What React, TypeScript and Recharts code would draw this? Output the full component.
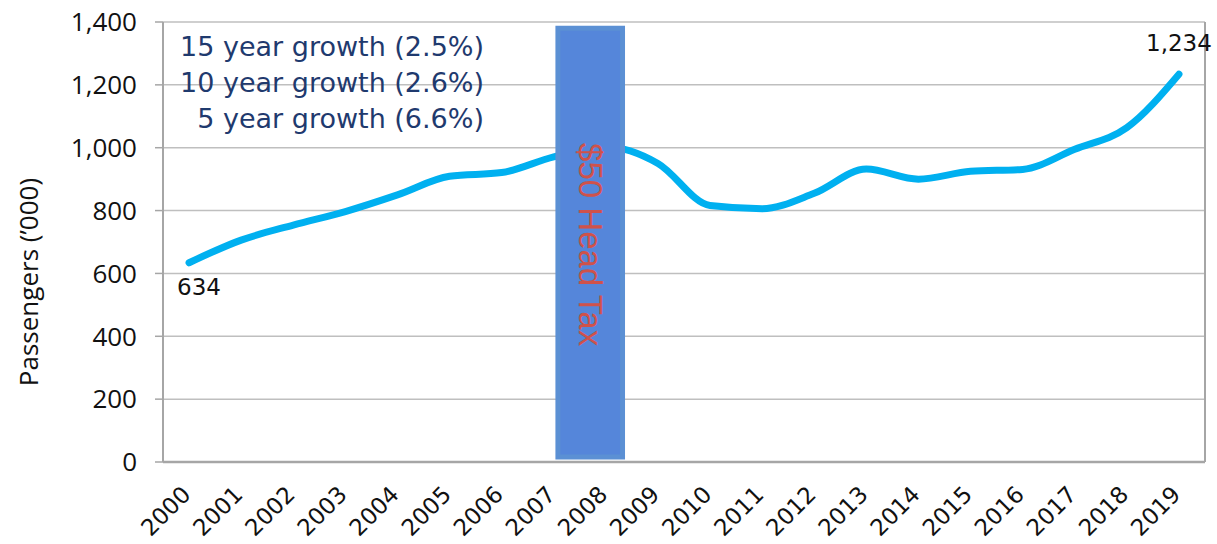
import React from "react";
import {
  LineChart,
  Line,
  XAxis,
  YAxis,
  CartesianGrid,
  ReferenceArea,
  ReferenceLine,
  LabelList,
} from "recharts";

const years = [
  2000, 2001, 2002, 2003, 2004, 2005, 2006, 2007, 2008, 2009,
  2010, 2011, 2012, 2013, 2014, 2015, 2016, 2017, 2018, 2019,
];
const passengers = [
  634, 706, 754, 797, 850, 909, 921, 971, 1003, 950,
  816, 806, 855, 932, 900, 925, 931, 995, 1064, 1234,
];
const yTicks = [0, 200, 400, 600, 800, 1000, 1200, 1400];
const growthNotes = [
  "15 year growth (2.5%)",
  "10 year growth (2.6%)",
  "5 year growth (6.6%)",
];
const taxLabel = "$50 Head Tax";
const taxSpan = [2007.08, 2008.32];

const data = years.map((year, i) => ({ year, passengers: passengers[i] }));

const fmt = (v: number) => v.toLocaleString("en-US");
const UI_FONT = "'Open Sans', 'Noto Sans', sans-serif";
const GEO_FONT = "'DejaVu Sans', sans-serif";
const W = 1217;
const H = 544;
const X_DOMAIN: [number, number] = [1999.5, 2019.5];

const YearTick = (props: any) => {
  const { x, y, payload } = props;
  const ax = x + 3;
  const ay = y + 26;
  return (
    <text
      x={ax}
      y={ay}
      transform={`rotate(-45, ${ax}, ${ay})`}
      textAnchor="end"
      fontSize={23}
      fontFamily={GEO_FONT}
      fill="#111"
    >
      {payload.value}
    </text>
  );
};

const EndLabel = (props: any) => {
  const { x, y, index, value } = props;
  if (index === 0) {
    return (
      <text x={x + 10} y={y + 32} textAnchor="middle" fontSize={23} fontFamily={GEO_FONT} fill="#111">
        {fmt(value)}
      </text>
    );
  }
  if (index === passengers.length - 1) {
    return (
      <text x={x} y={y - 23} textAnchor="middle" fontSize={23} fontFamily={GEO_FONT} fill="#111">
        {fmt(value)}
      </text>
    );
  }
  return null;
};

const TaxLabel = (props: any) => {
  const { viewBox } = props;
  const cx = viewBox.x + viewBox.width / 2;
  const cy = viewBox.y + viewBox.height / 2 + 2;
  return (
    <text
      x={cx}
      y={cy}
      transform={`rotate(90, ${cx}, ${cy})`}
      textAnchor="middle"
      dy="0.35em"
      fontSize={33}
      fontFamily="'Liberation Sans', Arial, sans-serif"
      fill="#CF524B"
    >
      {taxLabel}
    </text>
  );
};

const YLabel = () => (
  <text
    x={29}
    y={282}
    transform="rotate(-90, 29, 282)"
    textAnchor="middle"
    dy="0.35em"
    fontSize={26}
    fontFamily={UI_FONT}
    fill="#111"
  >
    Passengers (’000)
  </text>
);

export default function App() {
  return (
    <div style={{ position: "absolute", left: 0, top: 0, width: W, height: H, background: "#fff" }}>
      <LineChart width={W} height={H} data={data} margin={{ top: 22, right: 12, left: 0, bottom: 0 }}>
        <CartesianGrid vertical={false} stroke="#BFBFBF" strokeWidth={1.5} />
        <XAxis
          dataKey="year"
          type="number"
          domain={X_DOMAIN}
          ticks={years}
          interval={0}
          tickLine={false}
          axisLine={{ stroke: "#A6A6A6", strokeWidth: 2.5 }}
          height={82}
          tick={<YearTick />}
        />
        <YAxis
          domain={[0, 1400]}
          ticks={yTicks}
          width={163}
          tickSize={8}
          tickMargin={18}
          tickFormatter={fmt}
          tickLine={{ stroke: "#A6A6A6", strokeWidth: 1.5 }}
          axisLine={{ stroke: "#A6A6A6", strokeWidth: 2 }}
          tick={{ fontSize: 26, fontFamily: UI_FONT, fill: "#111" }}
          label={<YLabel />}
        />
        <ReferenceLine x={2019.5} stroke="#A6A6A6" strokeWidth={2} />
        <Line
          type="monotone"
          dataKey="passengers"
          stroke="#00B0F0"
          strokeWidth={7}
          strokeLinecap="round"
          dot={false}
          isAnimationActive={false}
        >
          <LabelList dataKey="passengers" content={<EndLabel />} />
        </Line>
      </LineChart>
      {/* second layer with the same scales, so the tax band covers the line */}
      <div style={{ position: "absolute", left: 0, top: 0, pointerEvents: "none" }}>
        <LineChart width={W} height={H} data={data} margin={{ top: 22, right: 12, left: 0, bottom: 0 }}>
          <XAxis dataKey="year" type="number" domain={X_DOMAIN} height={82} tick={false} axisLine={false} tickLine={false} />
          <YAxis domain={[0, 1400]} width={163} tick={false} axisLine={false} tickLine={false} />
          <Line dataKey="passengers" stroke="none" dot={false} isAnimationActive={false} />
          <ReferenceArea
            x1={taxSpan[0]}
            x2={taxSpan[1]}
            y1={16}
            y2={1380}
            fill="#5586DA"
            fillOpacity={1}
            stroke="#5B90D4"
            strokeWidth={5}
            ifOverflow="visible"
            label={<TaxLabel />}
          />
        </LineChart>
      </div>
      <div
        style={{
          position: "absolute",
          left: 110,
          top: 29,
          width: 374,
          textAlign: "right",
          fontFamily: GEO_FONT,
          fontSize: 27,
          lineHeight: "36px",
          color: "#1F3A6E",
          whiteSpace: "nowrap",
        }}
      >
        {growthNotes.map((t) => (
          <div key={t}>{t}</div>
        ))}
      </div>
    </div>
  );
}
